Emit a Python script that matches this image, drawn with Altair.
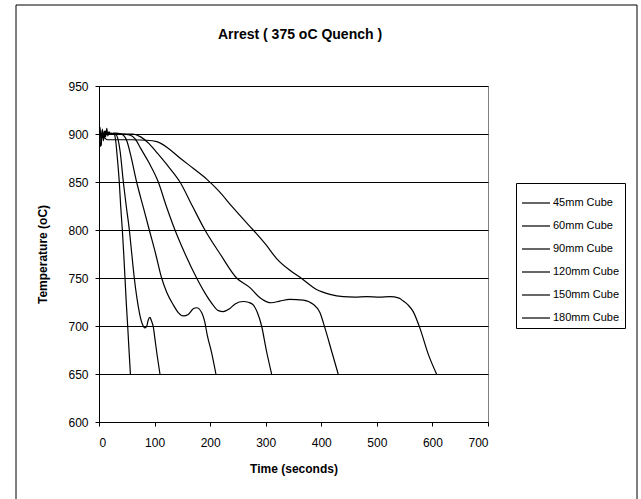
import altair as alt
import pandas as pd

FONT = "Liberation Sans"

series_names = ["45mm Cube", "60mm Cube", "90mm Cube", "120mm Cube", "150mm Cube", "180mm Cube"]

t45 = [0, 2, 4, 6, 8, 10, 12, 14, 16, 18, 20, 22, 25, 28, 30, 33, 36.5, 39, 42, 44.5, 46.8, 49, 51.6, 54, 56.5]
T45 = [900, 907, 888, 905, 893, 903, 897, 906, 898, 902, 900, 901, 900, 899, 893, 875, 850, 825, 800, 775, 750, 725, 700, 675, 650]

t60 = [0, 3, 6, 9, 12, 15, 18, 22, 26, 30, 34, 38, 43.8, 49, 54.6, 59, 63.5, 68, 73, 78, 82.7, 86, 88.5, 91.7, 94, 97.7, 101, 105, 109.7]
T60 = [901, 887, 904, 896, 903, 900, 902, 900, 901, 900, 895, 882, 850, 825, 800, 775, 750, 730, 713, 702, 698, 700, 706, 709, 706, 699, 685, 668, 650]

t90 = [0, 10, 20, 30, 40, 45, 50, 57, 67.7, 80, 90.5, 102, 112.7, 122, 133.7, 142.6, 151.7, 160.6, 169.6, 175.7, 184.7, 190, 195, 202.7, 210.4]
T90 = [900, 901, 900, 901, 900, 898, 893, 878, 850, 823, 800, 775, 750, 735, 722, 714, 710.5, 712, 718, 719, 714, 705, 690, 672, 650]

t120 = [0, 20, 40, 55, 65, 75, 90, 106.7, 121, 136.7, 155, 175.7, 190, 205, 215, 223.6, 235, 245, 259.5, 270, 277.5, 285, 292.6, 301, 310.6]
T120 = [900, 900, 900, 899, 895, 885, 870, 850, 825, 800, 775, 750, 735, 722, 716, 715, 718, 723, 725.5, 724.5, 722, 714, 700, 675, 650]

t150 = [0, 20, 40, 60, 75, 90, 105, 125, 145.7, 168, 190.6, 218, 247.6, 271.6, 289.6, 310.6, 325.5, 343.5, 367.4, 385.4, 397.5, 406.5, 418.5, 430.4]
T150 = [900, 900, 900, 900, 897, 890, 880, 866, 850, 825, 800, 775, 750, 740, 729.5, 724.2, 726, 727.7, 727, 722.6, 714, 698, 674, 650]

t180 = [0, 5, 10, 15, 30, 60, 85, 104, 125, 145.7, 170, 193.7, 215, 240, 260, 277.5, 300, 320, 343.5, 364.6, 391.5, 415.5, 439.4, 460, 481.5, 505, 523.4, 540, 547.4, 556, 565.4, 577.3, 592.3, 607.4]
T180 = [900, 898, 896, 894, 894, 894, 893.5, 892, 885, 875, 864, 853, 841, 824, 811, 800, 785, 770, 758, 749.5, 738, 733, 730.5, 730, 730.5, 730, 730.5, 729, 726, 722, 715, 698, 671, 650]

x_ticks = [0, 100, 200, 300, 400, 500, 600, 700]
y_ticks = [600, 650, 700, 750, 800, 850, 900, 950]
chart_title = "Arrest ( 375 oC Quench )"

rows = []
for name, ts, Ts in zip(series_names, [t45, t60, t90, t120, t150, t180], [T45, T60, T90, T120, T150, T180]):
    for i, (a, b) in enumerate(zip(ts, Ts)):
        rows.append({"series": name, "t": a, "T": b, "order": i})
df = pd.DataFrame(rows)

lines = alt.Chart(df).mark_line(strokeWidth=1.2, clip=True, interpolate="monotone").encode(
    x=alt.X("t:Q", scale=alt.Scale(domain=[0, 700], nice=False),
            axis=alt.Axis(values=x_ticks, title="Time (seconds)", grid=False,
                          labelFont=FONT, labelFontSize=12, labelColor="black",
                          labelPadding=11, tickSize=4, tickColor="black",
                          domainColor="black", titleFont=FONT, titleFontSize=12,
                          titleFontWeight="bold", titleColor="black", titlePadding=15)),
    y=alt.Y("T:Q", scale=alt.Scale(domain=[600, 950], nice=False),
            axis=alt.Axis(values=y_ticks, title="Temperature (oC)", grid=True,
                          gridColor="black", gridWidth=1, gridOpacity=1,
                          labelFont=FONT, labelFontSize=12, labelColor="black",
                          labelPadding=7, tickSize=4, tickColor="black",
                          domainColor="black", titleFont=FONT, titleFontSize=12,
                          titleFontWeight="bold", titleColor="black", titlePadding=18)),
    color=alt.Color("series:N", scale=alt.Scale(domain=series_names, range=["black"] * 6),
                    legend=alt.Legend(title=None, orient="none", legendX=417, legendY=97,
                                      symbolType="stroke", symbolSize=784, symbolStrokeWidth=1.2,
                                      labelFont=FONT, labelFontSize=11, labelColor="black",
                                      rowPadding=3, padding=5, strokeColor="black",
                                      fillColor="white", labelOffset=2)),
    order="order:Q",
)

frame = alt.Chart(pd.DataFrame({"k": [0]})).mark_rect(fill=None, stroke="black", strokeWidth=1).encode(
    x=alt.value(-83), x2=alt.value(538), y=alt.value(-81), y2=alt.value(430)
)

title_text = alt.Chart(pd.DataFrame({"label": [chart_title]})).mark_text(
    font=FONT, fontSize=14, fontWeight="bold", color="black", align="center", baseline="middle"
).encode(text="label:N", x=alt.value(201), y=alt.value(-51))

chart = alt.layer(frame, lines, title_text).properties(
    width=389, height=336,
    autosize=alt.AutoSizeParams(type="none"),
    padding={"left": 99, "top": 86, "right": 153, "bottom": 77},
    background="white",
).configure_view(stroke="#808080", strokeWidth=1)

chart.save("out.html", embed_options={"renderer": "svg", "actions": False})
